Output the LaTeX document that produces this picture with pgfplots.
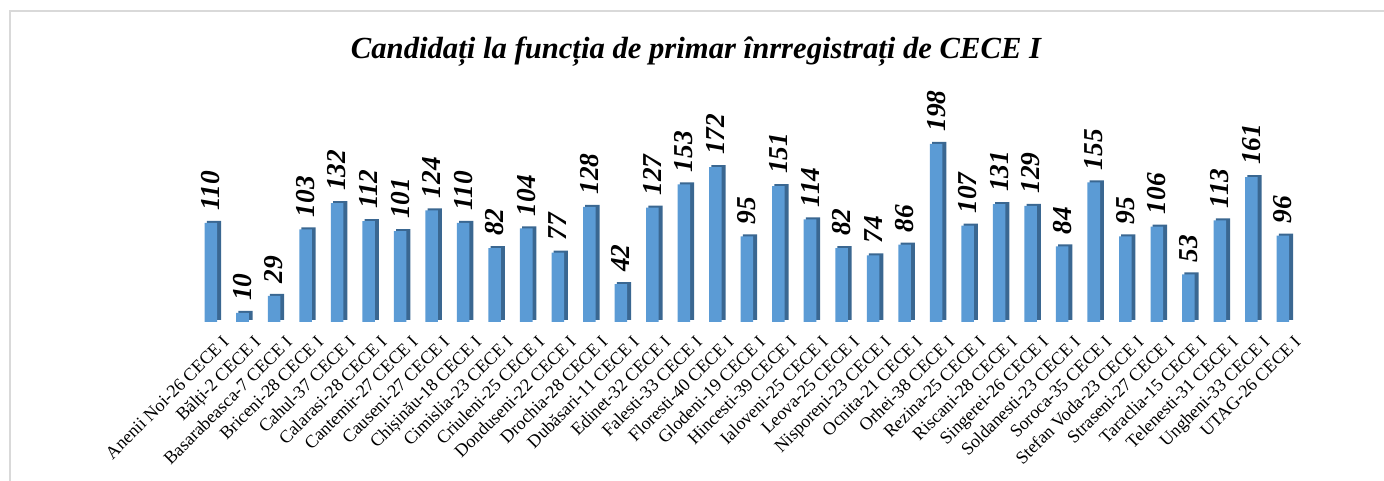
\documentclass[border=0pt]{standalone}
\usepackage{fontspec}
\setmainfont{Liberation Serif}
\usepackage{pgfplots}
\pgfplotsset{compat=1.18}
\definecolor{barfront}{HTML}{5B9BD5}
\definecolor{barside}{HTML}{3A6791}
\begin{document}
\begin{tikzpicture}
\useasboundingbox (0,0) rectangle (1038pt,360.75pt);
\draw[line width=1.5pt, color=black!15] (7.5pt,0) -- (7.5pt,352.5pt) -- (1038pt,352.5pt);
\node[font=\fontsize{23}{26}\selectfont\bfseries\itshape] at (522pt,322pt) {Candidați la funcția de primar înrregistrați de CECE I};
\begin{axis}[
  scale only axis,
  anchor=south west,
  at={(146.4pt,119.25pt)},
  width=827.6pt, height=168.75pt,
  xmin=-0.5, xmax=34.5, ymin=0, ymax=250,
  clip=false,
  axis line style={draw=none},
  major tick length=0pt,
  ytick=\empty,
  xtick={0,...,34},
  /pgf/number format/assume math mode=true,
  xticklabels={Anenii Noi-26 CECE I,Bălți-2 CECE I,Basarabeasca-7 CECE I,Briceni-28 CECE I,Cahul-37 CECE I,Calarasi-28 CECE I,Cantemir-27 CECE I,Causeni-27 CECE I,Chișinău-18 CECE I,Cimislia-23 CECE I,Criuleni-25 CECE I,Donduseni-22 CECE I,Drochia-28 CECE I,Dubăsari-11 CECE I,Edinet-32 CECE I,Falesti-33 CECE I,Floresti-40 CECE I,Glodeni-19 CECE I,Hincesti-39 CECE I,Ialoveni-25 CECE I,Leova-25 CECE I,Nisporeni-23 CECE I,Ocnita-21 CECE I,Orhei-38 CECE I,Rezina-25 CECE I,Riscani-28 CECE I,Singerei-26 CECE I,Soldanesti-23 CECE I,Soroca-35 CECE I,Stefan Voda-23 CECE I,Straseni-27 CECE I,Taraclia-15 CECE I,Telenesti-31 CECE I,Ungheni-33 CECE I,UTAG-26 CECE I},
  xticklabel style={rotate=45, anchor=north east, font=\fontsize{13.5}{13.5}\selectfont, inner sep=0pt, xshift=-1pt, yshift=-12pt},
]
\addplot[ybar, bar width=10.7pt, bar shift=2.3pt, fill=barside, draw=none, yshift=1.5pt] coordinates {
(0,110)(1,10)(2,29)(3,103)(4,132)(5,112)(6,101)(7,124)(8,110)(9,82)(10,104)(11,77)(12,128)(13,42)(14,127)(15,153)(16,172)(17,95)(18,151)(19,114)(20,82)(21,74)(22,86)(23,198)(24,107)(25,131)(26,129)(27,84)(28,155)(29,95)(30,106)(31,53)(32,113)(33,161)(34,96)};
\addplot[ybar, bar width=9.4pt, bar shift=0pt, fill=barfront, draw=none,
  nodes near coords,
  every node near coord/.append style={rotate=90, anchor=west, font=\fontsize{20.5}{20.5}\selectfont\bfseries\itshape, xshift=8pt, inner sep=1pt}] coordinates {
(0,110)(1,10)(2,29)(3,103)(4,132)(5,112)(6,101)(7,124)(8,110)(9,82)(10,104)(11,77)(12,128)(13,42)(14,127)(15,153)(16,172)(17,95)(18,151)(19,114)(20,82)(21,74)(22,86)(23,198)(24,107)(25,131)(26,129)(27,84)(28,155)(29,95)(30,106)(31,53)(32,113)(33,161)(34,96)};
\end{axis}
\end{tikzpicture}
\end{document}
